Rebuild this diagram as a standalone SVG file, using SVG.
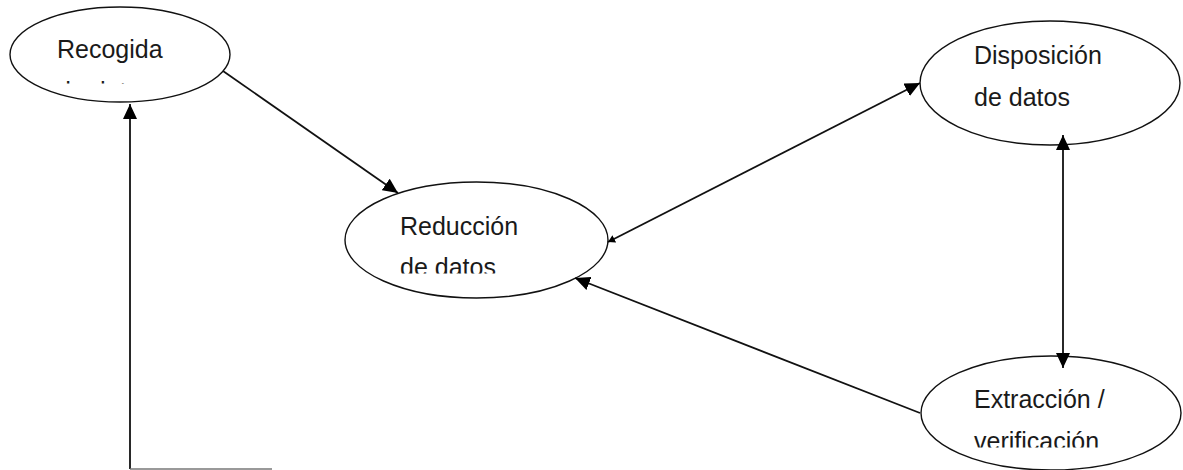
<svg xmlns="http://www.w3.org/2000/svg" width="1183" height="470" viewBox="0 0 1183 470">
  <style>
    .node { fill: #ffffff; stroke: #111111; stroke-width: 1.4; }
    .label { font-family: "Liberation Sans", Arial, sans-serif; font-size: 25px; fill: #1a1a1a; }
    .edge { fill: none; stroke: #111111; stroke-width: 1.8; }
  </style>
  <defs>
    <marker id="arrow" markerUnits="userSpaceOnUse" markerWidth="16" markerHeight="14" refX="15" refY="7" orient="auto-start-reverse">
      <path d="M0,0 L15,7 L0,14 z" fill="#000000"/>
    </marker>
    <marker id="arrow-small" markerUnits="userSpaceOnUse" markerWidth="8" markerHeight="8" refX="7" refY="4" orient="auto-start-reverse">
      <path d="M0,0 L7,4 L0,8 z" fill="#000000"/>
    </marker>
    <!-- text boxes cut off their second line -->
    <clipPath id="clip-recogida"><rect x="0" y="0" width="240" height="83.5"/></clipPath>
    <clipPath id="clip-reduccion"><rect x="340" y="180" width="280" height="93.5"/></clipPath>
    <clipPath id="clip-extraccion"><rect x="920" y="350" width="263" height="97.5"/></clipPath>
  </defs>

  <g id="recogida">
    <ellipse class="node" cx="120" cy="54.5" rx="110" ry="47.5"/>
    <g clip-path="url(#clip-recogida)">
      <text class="label" x="57" y="58">Recogida</text>
      <text class="label" x="57" y="100">de datos</text>
    </g>
  </g>

  <g id="reduccion">
    <ellipse class="node" cx="476.5" cy="240" rx="131.5" ry="58"/>
    <g clip-path="url(#clip-reduccion)">
      <text class="label" x="400" y="235">Reducción</text>
      <text class="label" x="400" y="276">de datos</text>
    </g>
  </g>

  <g id="disposicion">
    <ellipse class="node" cx="1050" cy="83" rx="130" ry="62"/>
    <text class="label" x="974" y="64">Disposición</text>
    <text class="label" x="974" y="106">de datos</text>
  </g>

  <g id="extraccion">
    <ellipse class="node" cx="1051" cy="413" rx="130" ry="57"/>
    <g clip-path="url(#clip-extraccion)">
      <text class="label" x="974" y="408">Extracción /</text>
      <text class="label" x="974" y="450">verificación</text>
    </g>
  </g>

  <!-- arrows drawn over the ellipses so their heads stay visible -->
  <g id="connectors">
    <line class="edge" x1="223" y1="71" x2="398" y2="193" marker-end="url(#arrow)"/>
    <line class="edge" x1="608" y1="242" x2="920" y2="83" marker-start="url(#arrow-small)" marker-end="url(#arrow)"/>
    <line class="edge" x1="920" y1="413" x2="575" y2="278" marker-end="url(#arrow)"/>
    <line class="edge" x1="1063" y1="135" x2="1063" y2="368" marker-start="url(#arrow)" marker-end="url(#arrow)"/>
    <polyline class="edge" points="130,469 130,104" marker-end="url(#arrow)"/>
    <line x1="130" y1="469" x2="272" y2="469" stroke="#777777" stroke-width="1.6"/>
  </g>
</svg>
